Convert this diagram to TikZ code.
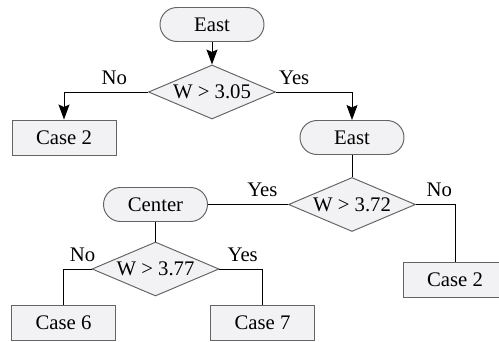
\documentclass[tikz,border=0pt]{standalone}
\usepackage{fontspec}
\setmainfont{Liberation Serif}
\usetikzlibrary{shapes.geometric,positioning,arrows.meta}

\definecolor{boxfill}{RGB}{242,242,244}
\definecolor{boxline}{RGB}{100,100,100}

\begin{document}
\begin{tikzpicture}[%
        >={Stealth[length=0.3cm,width=0.22cm,inset=0.05cm]},
        on grid,
        font=\fontsize{11.8}{14}\selectfont,
        line width=0.55pt,
        term/.style={draw=boxline, fill=boxfill, rounded corners=0.34cm,
            minimum width=2.08cm, minimum height=0.68cm, inner sep=0pt},
        decision/.style={diamond, draw=boxline, fill=boxfill, aspect=2.35,
            minimum width=2.54cm, minimum height=1.08cm, inner sep=0pt},
        outcome/.style={rectangle, draw=boxline, fill=boxfill,
            minimum width=2.08cm, minimum height=0.70cm, inner sep=0pt},
        lbl/.style={above, inner sep=4pt, text depth=0pt}
        ]
        \clip (0,0) rectangle (9.98,-6.84);

        \node[term] (east1) at (4.24,-0.49) {East};
        \node[decision] (d1) [below=1.35cm of east1] {W > 3.05};
        \node[outcome] (case2a) [below left=0.91cm and 2.96cm of d1] {Case 2};
        \node[term] (east2) [below right=0.91cm and 2.8cm of d1] {East};
        \node[decision] (d2) [below=1.34cm of east2] {W > 3.72};
        \node[term] (center) [left=3.93cm of d2] {Center};
        \node[outcome] (case2b) [below right=1.5cm and 2.06cm of d2] {Case 2};
        \node[decision] (d3) [below=1.29cm of center] {W > 3.77};
        \node[outcome] (case6) [below left=1.08cm and 1.84cm of d3] {Case 6};
        \node[outcome] (case7) [below right=1.08cm and 2.14cm of d3] {Case 7};

        \draw[->] (east1) -- (d1);
        \draw[->] (d1.west) -| node[lbl, pos=0.2] {No} (case2a.north);
        \draw[->] (d1.east) -| node[lbl, pos=0.12] {Yes} (east2.north);
        \draw (east2) -- (d2);
        \draw (d2.west) -- node[lbl, pos=0.32] {Yes} (center.east);
        \draw (d2.east) -| node[lbl, pos=0.3] {No} (case2b.north);
        \draw (center) -- (d3);
        \draw (d3.west) -| node[lbl, pos=0.16] {No} (case6.north);
        \draw (d3.east) -| node[lbl, pos=0.27] {Yes} (case7.north);

    \end{tikzpicture}
\end{document}
